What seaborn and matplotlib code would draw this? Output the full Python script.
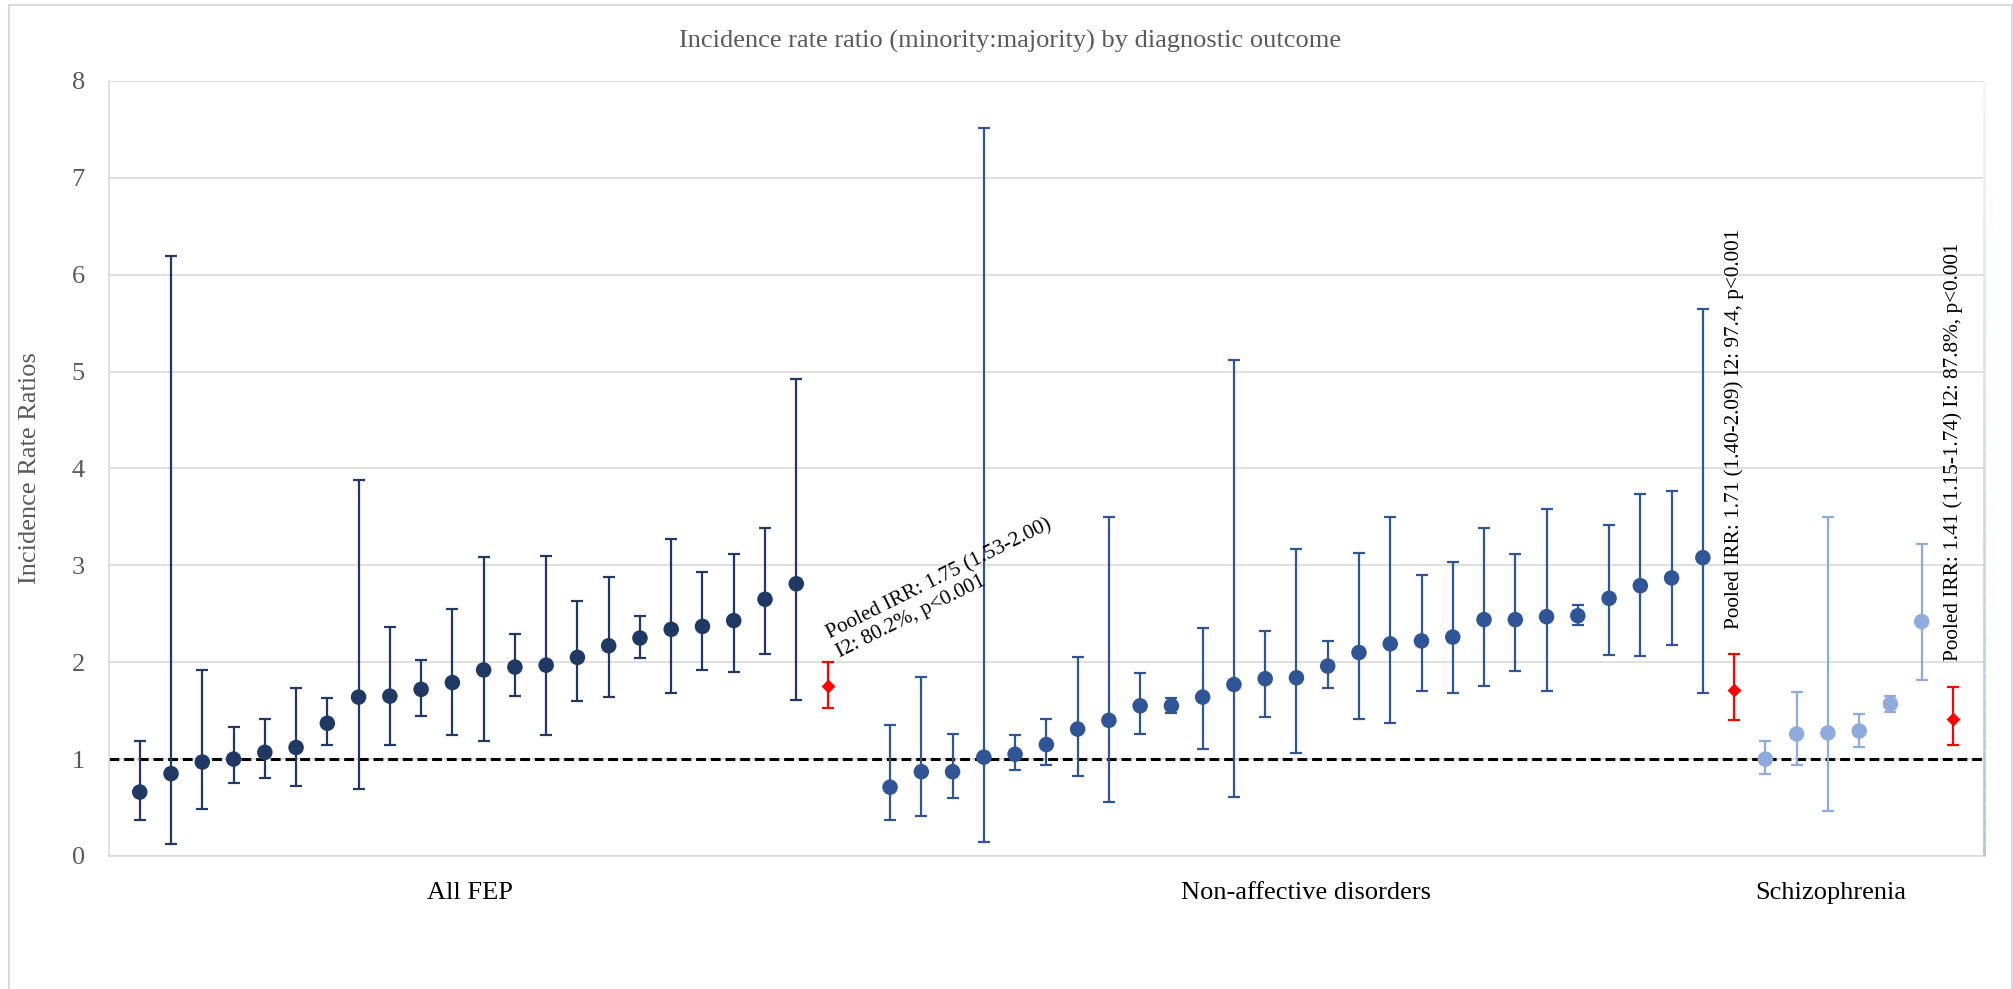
import matplotlib
matplotlib.use("Agg")
import numpy as np
import pandas as pd
import matplotlib.pyplot as plt
import seaborn as sns
from matplotlib.collections import LineCollection
from matplotlib.colors import to_rgba
from matplotlib.patches import Rectangle

# ---- data -----------------------------------------------------------------
groups = ["All FEP", "Non-affective disorders", "Schizophrenia"]

fep_irr = [0.66, 0.85, 0.97, 1.00, 1.07, 1.12, 1.37, 1.64, 1.65, 1.72, 1.79,
           1.92, 1.95, 1.97, 2.05, 2.17, 2.25, 2.34, 2.37, 2.43, 2.65, 2.81]
fep_lo = [0.37, 0.12, 0.49, 0.75, 0.81, 0.72, 1.15, 0.69, 1.15, 1.45, 1.25,
          1.19, 1.65, 1.25, 1.60, 1.64, 2.04, 1.68, 1.92, 1.90, 2.08, 1.61]
fep_hi = [1.19, 6.19, 1.92, 1.33, 1.41, 1.73, 1.63, 3.88, 2.36, 2.02, 2.55,
          3.09, 2.29, 3.10, 2.63, 2.88, 2.48, 3.27, 2.93, 3.12, 3.39, 4.92]

nad_irr = [0.71, 0.87, 0.87, 1.02, 1.05, 1.15, 1.31, 1.40, 1.55, 1.55, 1.64,
           1.77, 1.83, 1.84, 1.96, 2.10, 2.19, 2.22, 2.26, 2.44, 2.44, 2.47,
           2.48, 2.66, 2.79, 2.87, 3.08]
nad_lo = [0.37, 0.41, 0.60, 0.14, 0.89, 0.94, 0.83, 0.56, 1.26, 1.48, 1.10,
          0.61, 1.43, 1.06, 1.73, 1.41, 1.37, 1.70, 1.68, 1.75, 1.91, 1.70,
          2.38, 2.07, 2.06, 2.18, 1.68]
nad_hi = [1.35, 1.85, 1.26, 7.51, 1.25, 1.41, 2.05, 3.50, 1.89, 1.63, 2.35,
          5.12, 2.32, 3.17, 2.22, 3.13, 3.50, 2.90, 3.03, 3.39, 3.12, 3.58,
          2.59, 3.42, 3.74, 3.77, 5.65]

scz_irr = [1.00, 1.26, 1.27, 1.29, 1.57, 2.42]
scz_lo = [0.85, 0.94, 0.46, 1.12, 1.49, 1.82]
scz_hi = [1.19, 1.69, 3.50, 1.47, 1.65, 3.22]

pooled_irr = [1.75, 1.71, 1.41]
pooled_lo = [1.53, 1.40, 1.15]
pooled_hi = [2.00, 2.09, 1.74]
pooled_i2 = ["80.2%", "97.4", "87.8%"]

# ---- styling --------------------------------------------------------------
sns.set_theme(style="white")
plt.rcParams["font.family"] = ["Liberation Serif", "DejaVu Serif"]

palette = {"All FEP": "#1F3864",
           "Non-affective disorders": "#2F5597",
           "Schizophrenia": "#8FAADC"}
pooled_color = "#FF0000"
grid_color = "#D9D9D9"
text_gray = "#595959"

# ---- categorical layout: studies, then the pooled estimate, then a spacer --
study_sets = [(fep_irr, fep_lo, fep_hi), (nad_irr, nad_lo, nad_hi),
              (scz_irr, scz_lo, scz_hi)]
spacer_after = [1, 0, 0]

rows, pooled_pos = [], []
slot = 1
for g, (irr, lo, hi), gap in zip(groups, study_sets, spacer_after):
    for v, l, h in zip(irr, lo, hi):
        rows.append({"group": g, "pos": slot, "irr": v, "lo": l, "hi": h})
        slot += 1
    pooled_pos.append(slot)
    slot += 1 + gap
n_slots = slot

df = pd.DataFrame(rows)
pooled = pd.DataFrame({"group": groups, "pos": pooled_pos, "irr": pooled_irr,
                       "lo": pooled_lo, "hi": pooled_hi})

fig = plt.figure(figsize=(20.13, 9.89), dpi=100)
ax = fig.add_subplot(111)
fig.subplots_adjust(left=0.0539, right=0.9857, bottom=0.1345, top=0.9181)

# confidence intervals
for g in groups:
    sub = df[df["group"] == g]
    ax.errorbar(sub["pos"], sub["irr"],
                yerr=[sub["irr"] - sub["lo"], sub["hi"] - sub["irr"]],
                fmt="none", ecolor=palette[g], elinewidth=1.6,
                capsize=4.2, capthick=1.6, zorder=3)
ax.errorbar(pooled["pos"], pooled["irr"],
            yerr=[pooled["irr"] - pooled["lo"], pooled["hi"] - pooled["irr"]],
            fmt="none", ecolor=pooled_color, elinewidth=1.6,
            capsize=4.2, capthick=1.6, zorder=3)

# point estimates
sns.scatterplot(data=df, x="pos", y="irr", hue="group", palette=palette,
                s=125, linewidth=0, legend=False, ax=ax, zorder=4)
sns.scatterplot(data=pooled, x="pos", y="irr", color=pooled_color,
                marker="D", s=50, linewidth=0, legend=False, ax=ax, zorder=5)

# null line
ax.axhline(1, color="black", lw=2.2, ls=(0, (3.2, 1.6)), zorder=2)

# axes
ax.set_xlim(0, n_slots)
ax.set_ylim(0, 8)
ax.set_yticks(range(0, 9))
ax.set_xticks([])
ax.set_xlabel("")
ax.yaxis.grid(True, color=grid_color, lw=1.2)
ax.set_axisbelow(True)
ax.tick_params(axis="y", length=0, pad=17, labelsize=19, labelcolor=text_gray)
for side in ("left", "bottom"):
    ax.spines[side].set_color(grid_color)
    ax.spines[side].set_linewidth(1.2)
ax.spines["top"].set_visible(False)
ax.spines["right"].set_visible(False)

# right-hand edge of the plot area, fading upward
ys = np.linspace(0, 1, 60)
segs = [[(1, ys[i]), (1, ys[i + 1])] for i in range(len(ys) - 1)]
c_bot, c_top = np.array(to_rgba("#AFC3E7")), np.array(to_rgba("#F2F5FB"))
cols = [c_bot + (c_top - c_bot) * t for t in ys[:-1]]
ax.add_collection(LineCollection(segs, colors=cols, lw=2.0,
                                 transform=ax.transAxes, clip_on=False,
                                 zorder=1))

ax.set_ylabel("Incidence Rate Ratios", fontsize=19, color=text_gray)
ax.yaxis.set_label_coords(-0.036, 0.50)

fig.text(0.502, 0.958,
         "Incidence rate ratio (minority:majority) by diagnostic outcome",
         ha="center", va="center", fontsize=19, color=text_gray)

# group names under the axis
label_x = [11.55, 38.3, 55.1]
for g, x in zip(groups, label_x):
    ax.text(x, -0.447, g, ha="center", va="baseline", fontsize=19,
            color="black", clip_on=False)

# pooled estimate annotations
pooled_txt = [f"Pooled IRR: {v:.2f} ({l:.2f}-{h:.2f})"
              for v, l, h in zip(pooled_irr, pooled_lo, pooled_hi)]
ax.text(pooled_pos[0] + 0.46, 2.0,
        f"{pooled_txt[0]}\nI2: {pooled_i2[0]}, p<0.001",
        rotation=26.5, rotation_mode="anchor", ha="left", va="bottom",
        fontsize=15.3, color="black", linespacing=1.15)
ax.text(pooled_pos[1], 2.34, f"{pooled_txt[1]} I2: {pooled_i2[1]}, p<0.001",
        rotation=90, rotation_mode="anchor", ha="left", va="center",
        fontsize=15.3, color="black")
ax.text(pooled_pos[2], 2.01, f"{pooled_txt[2]} I2: {pooled_i2[2]}, p<0.001",
        rotation=90, rotation_mode="anchor", ha="left", va="center",
        fontsize=15.3, color="black")

# chart frame
fig.add_artist(Rectangle((9 / 2013, -0.02), (2011.7 - 9) / 2013,
                         1.02 + (1 - 4.7 / 989) - 1,
                         transform=fig.transFigure, fill=False,
                         edgecolor=grid_color, lw=1.5))

fig.savefig("out.png", dpi=100)
